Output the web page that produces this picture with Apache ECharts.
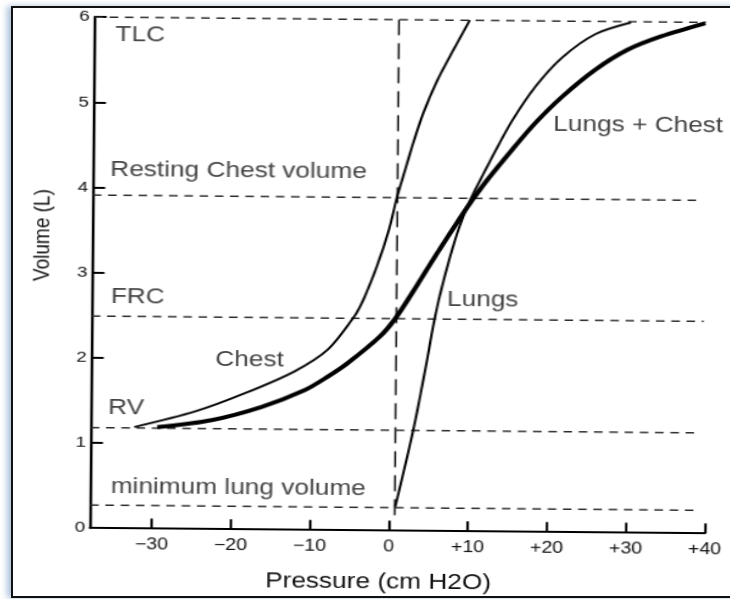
<!DOCTYPE html>
<html><head><meta charset="utf-8">
<script src="https://cdn.jsdelivr.net/npm/echarts@6/dist/echarts.min.js"></script>
<style>
html,body{margin:0;padding:0;background:#fff;overflow:hidden;width:730px;height:599px;}
#frame{position:absolute;left:11px;top:6px;width:760px;height:588px;border:2px solid #111;box-shadow:-4px 0 6px rgba(110,145,190,0.55);}
#chart{position:absolute;left:0;top:0;width:598px;height:599px;transform-origin:0 0;transform:rotate(0.5deg) scaleX(1.22);}
</style></head><body>
<div id="frame"></div>
<div id="chart"></div>
<script>
// Axis ticks
const xTicks = [-30, -20, -10, 0, 10, 20, 30, 40];
const yTicks = [0, 1, 2, 3, 4, 5, 6];

// Chest curve (thin)
const chestP = [-32.3, -24.6, -18.3, -12.1, -7.9, -4.6, -3.4, -1.75, -0.3, 0.7, 1.7, 2.7, 3.9, 5.6, 7.6, 9.7];
const chestV = [1.19, 1.38, 1.6, 1.86, 2.12, 2.51, 2.72, 3.11, 3.53, 3.92, 4.24, 4.56, 4.9, 5.28, 5.64, 6.0];

// Lungs curve (thin)
const lungsP = [0.8, 3.0, 4.6, 5.4, 6.2, 7.4, 8.6, 10.0, 11.5, 13.2, 15.2, 18.1, 21.4, 25.6, 30.1];
const lungsV = [0.28, 1.18, 1.97, 2.4, 2.76, 3.2, 3.57, 3.9, 4.18, 4.49, 4.83, 5.23, 5.57, 5.85, 5.99];

// Lungs + Chest curve (thick)
const bothP = [-29.4, -22.5, -16.2, -10.8, -7.9, -5.4, -1.3, 0.6, 2.9, 5.75, 9.06, 10.3, 12.2, 15.25, 18.1, 21.45, 25.6, 29.7, 33.9, 39.5];
const bothV = [1.19, 1.28, 1.44, 1.64, 1.80, 1.96, 2.28, 2.49, 2.82, 3.25, 3.73, 3.9, 4.14, 4.49, 4.80, 5.11, 5.43, 5.67, 5.83, 5.99];

// Reference (dashed) volume levels: TLC, Resting chest volume, FRC, RV, minimum lung volume
const refV = [6.0, 3.91, 2.49, 1.18, 0.27];
const refEndP = [39.6, 39.3, 39.65, 39.15, 39.2];
// Vertical zero-pressure dashed line
const zeroP = 0.75;
const zeroV = [0.18, 6.0];

// Annotation texts and their anchor (left edge, middle) in data units
const labelText = ['TLC', 'Resting Chest volume', 'FRC', 'Chest', 'RV', 'minimum lung volume', 'Lungs', 'Lungs + Chest'];
const labelP = [-35.2, -35.7, -35.5, -22.2, -35.7, -35.3, 7.05, 20.3];
const labelV = [5.785, 4.2, 2.71, 1.985, 1.41, 0.487, 2.717, 4.78];

const X_MIN = -37.8, X_MAX = 40;
const FONT = 'Liberation Sans';
const INK = '#000';

const zip = (a, b) => a.map((v, i) => [v, b[i]]);

const series = [];
refV.forEach((v, i) => {
  series.push({
    type: 'line', silent: true, clip: false, symbol: 'none', z: 1,
    data: [[X_MIN, v], [refEndP[i], v]],
    lineStyle: { color: '#2a2a2a', width: 1.5, type: [7, 5.5] }
  });
});
series.push({
  type: 'line', silent: true, clip: false, symbol: 'none', z: 1,
  data: [[zeroP, zeroV[0]], [zeroP, zeroV[1]]],
  lineStyle: { color: '#1a1a1a', width: 1.5, type: [16, 8] }
});
series.push({
  type: 'line', name: 'Chest', smooth: 0.3, symbol: 'none', z: 3, clip: false,
  data: zip(chestP, chestV), lineStyle: { color: INK, width: 2.0 }
});
series.push({
  type: 'line', name: 'Lungs', smooth: 0.3, symbol: 'none', z: 3, clip: false,
  data: zip(lungsP, lungsV), lineStyle: { color: INK, width: 2.0 }
});
series.push({
  type: 'line', name: 'Lungs + Chest', smooth: 0.3, symbol: 'none', z: 4, clip: false,
  data: zip(bothP, bothV), lineStyle: { color: INK, width: 4.0 }
});
series.push({
  type: 'scatter', silent: true, symbolSize: 1, z: 5,
  itemStyle: { color: 'rgba(0,0,0,0)' },
  data: labelText.map((t, i) => ({ name: t, value: [labelP[i], labelV[i]] })),
  label: {
    show: true, position: 'right', distance: 0, formatter: p => p.name,
    fontFamily: FONT, fontSize: 21.5, color: '#111', align: 'left', verticalAlign: 'middle'
  }
});

const chart = echarts.init(document.getElementById('chart'), null, { renderer: 'canvas' });
chart.setOption({
  animation: false,
  backgroundColor: 'transparent',
  grid: { left: 77.5, right: 11.4, top: 16.2, bottom: 71.8 },
  xAxis: {
    type: 'value', min: X_MIN, max: X_MAX,
    name: 'Pressure (cm H2O)', nameLocation: 'middle', nameGap: 41,
    nameTextStyle: { fontFamily: FONT, fontSize: 21.5, color: '#111', padding: [0, 31, 0, 0] },
    axisLine: { onZero: false, lineStyle: { color: INK, width: 2.2 } },
    axisTick: { inside: true, length: 10, lineStyle: { color: INK, width: 2 }, customValues: xTicks },
    axisLabel: {
      customValues: xTicks, margin: 8, fontFamily: FONT, fontSize: 16, color: '#111',
      formatter: v => v > 0 ? '+' + v : (v < 0 ? '\u2212' + Math.abs(v) : '0')
    },
    splitLine: { show: false }
  },
  yAxis: {
    type: 'value', min: 0, max: 6, interval: 1,
    name: 'Volume (L)', nameLocation: 'middle', nameGap: 31, nameRotate: 90,
    nameTextStyle: { fontFamily: FONT, fontSize: 19, color: '#111', padding: [0, 0, 0, 74] },
    axisLine: { show: true, onZero: false, lineStyle: { color: INK, width: 2.2 } },
    axisTick: { show: true, inside: true, length: 10, lineStyle: { color: INK, width: 2 } },
    axisLabel: { margin: 4, fontFamily: FONT, fontSize: 15.5, color: '#111',
      formatter: v => yTicks.includes(v) ? String(v) : '' },
    splitLine: { show: false }
  },
  series
});
</script>
</body></html>
